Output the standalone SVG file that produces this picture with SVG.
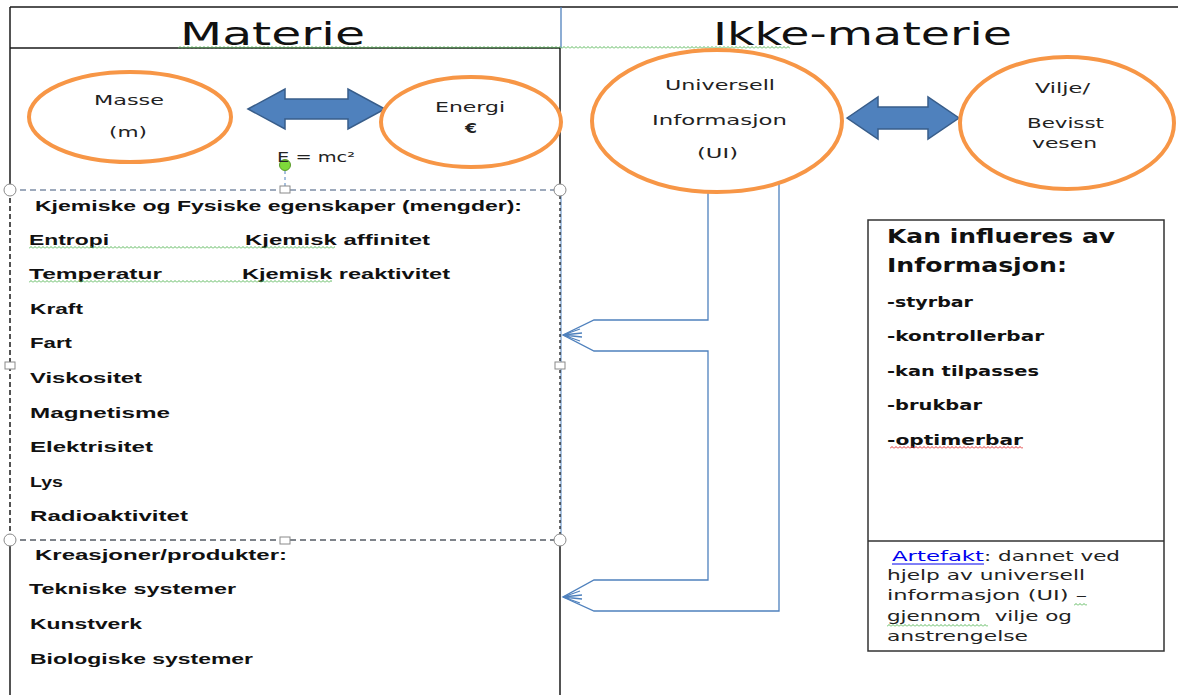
<svg xmlns="http://www.w3.org/2000/svg" width="1178" height="695" viewBox="0 0 1178 695">
<style>
.frame{stroke:#1a1a1a;stroke-width:1.5;fill:none}
.ell{fill:#fff;stroke:#F79646;stroke-width:4}
.dbl{fill:#4F81BD;stroke:#385D8A;stroke-width:1.5}
.con{fill:none;stroke:#4F81BD;stroke-width:1.3}
.title{font-family:"DejaVu Sans",Verdana,sans-serif;font-size:32px;fill:#111}
.lbl{font-family:"DejaVu Sans",Verdana,sans-serif;font-size:14px;fill:#222}
.lst{font-family:"Liberation Sans",Arial,sans-serif;font-size:15px;font-weight:bold;fill:#111}
.rb{font-family:"DejaVu Sans",Verdana,sans-serif;font-weight:bold;fill:#111}
.art{font-family:"DejaVu Sans",Verdana,sans-serif;font-size:14px;fill:#222}
.hdl{fill:#fff;stroke:#8a8a8a;stroke-width:1}
</style>
<defs>
<pattern id="wg" patternUnits="userSpaceOnUse" width="4" height="3"><path d="M0,2.5 L2,0.5 L4,2.5" fill="none" stroke="#5cb85c" stroke-width="1"/></pattern>
<pattern id="wr" patternUnits="userSpaceOnUse" width="4" height="3"><path d="M0,2.5 L2,0.5 L4,2.5" fill="none" stroke="#e03030" stroke-width="1"/></pattern>
</defs>
<rect width="1178" height="695" fill="#fff"/>

<g id="frame">
<line x1="10" y1="7" x2="1178" y2="7" class="frame"/>
<line x1="10" y1="48" x2="560" y2="48" class="frame"/>
<line x1="10" y1="7" x2="10" y2="190" class="frame"/>
<line x1="10" y1="540" x2="10" y2="695" class="frame"/>
<line x1="561" y1="7" x2="561" y2="48" stroke="#4F81BD" stroke-width="1.3"/>
<line x1="560" y1="48" x2="560" y2="190" class="frame"/>
<line x1="560" y1="540" x2="560" y2="695" class="frame"/>
<g transform="translate(178,46)"><rect width="612" height="3" fill="url(#wg)"/></g>
</g>

<g id="titles">
<text x="180" y="45" class="title" textLength="185" lengthAdjust="spacingAndGlyphs">Materie</text>
<text x="713" y="45" class="title" textLength="299" lengthAdjust="spacingAndGlyphs">Ikke-materie</text>
</g>

<g id="connectors">
<path class="con" d="M708,192 L708,320 L594,320 L563,335 L594,351 L708,351 L708,580 L594,580 L563,597 L594,611 L779,611 L779,184"/>
<path class="con" d="M563,335 L580,329 M563,335 L582,333 M563,335 L582,337 M563,335 L580,341"/>
<path class="con" d="M563,597 L580,591 M563,597 L582,595 M563,597 L582,599 M563,597 L580,603"/>
</g>

<g id="selection">
<line x1="561" y1="190" x2="561" y2="540" stroke="#4F81BD" stroke-width="1"/>
<line x1="10" y1="190" x2="560" y2="190" stroke="#7f8fa6" stroke-width="1.3" stroke-dasharray="6,4"/>
<line x1="10" y1="540" x2="560" y2="540" stroke="#555c66" stroke-width="1.3" stroke-dasharray="6,4"/>
<line x1="10" y1="190" x2="10" y2="540" stroke="#1a1a1a" stroke-width="1.5" stroke-dasharray="5,3"/>
<line x1="560" y1="190" x2="560" y2="540" stroke="#1a1a1a" stroke-width="1.3" stroke-dasharray="3,3"/>
<line x1="285" y1="171" x2="285" y2="190" stroke="#4F81BD" stroke-width="1" stroke-dasharray="3,3"/>
<circle cx="285" cy="165" r="5.5" fill="#7ed93a" stroke="#5a9a2a" stroke-width="1"/>
<circle cx="10" cy="190" r="6" class="hdl"/>
<circle cx="560" cy="190" r="6" class="hdl"/>
<circle cx="10" cy="540" r="6" class="hdl"/>
<circle cx="560" cy="540" r="6" class="hdl"/>
<rect x="280" y="186" width="10" height="7" class="hdl"/>
<rect x="280" y="537" width="10" height="7" class="hdl"/>
<rect x="5" y="362" width="10" height="7" class="hdl"/>
<rect x="555" y="362" width="10" height="7" class="hdl"/>
</g>

<g id="masse">
<ellipse cx="130" cy="117" rx="101" ry="45" class="ell"/>
<text x="94" y="105" class="lbl" textLength="70" lengthAdjust="spacingAndGlyphs">Masse</text>
<text x="109" y="137" class="lbl" textLength="38" lengthAdjust="spacingAndGlyphs">(m)</text>
</g>

<g id="arrow-left">
<path class="dbl" d="M248,109 L285,89 L285,99 L348,99 L348,89 L385,109 L348,129 L348,119 L285,119 L285,129 Z"/>
</g>

<g id="energi">
<ellipse cx="471" cy="122" rx="90" ry="45" class="ell"/>
<text x="435" y="112" class="lbl" textLength="70" lengthAdjust="spacingAndGlyphs">Energi</text>
<text x="465" y="133" class="lbl" font-weight="bold" textLength="12" lengthAdjust="spacingAndGlyphs">€</text>
</g>

<g id="formula">
<text x="277" y="162" class="lbl" textLength="78" lengthAdjust="spacingAndGlyphs">E = mc²</text>
</g>

<g id="ui">
<ellipse cx="717" cy="121" rx="125" ry="71" class="ell"/>
<text x="665" y="90" class="lbl" textLength="110" lengthAdjust="spacingAndGlyphs">Universell</text>
<text x="652" y="125" class="lbl" textLength="135" lengthAdjust="spacingAndGlyphs">Informasjon</text>
<text x="697" y="158" class="lbl" textLength="41" lengthAdjust="spacingAndGlyphs">(UI)</text>
</g>

<g id="arrow-right">
<path class="dbl" d="M847,118 L878,97 L878,107 L928,107 L928,97 L959,118 L928,139 L928,129 L878,129 L878,139 Z"/>
</g>

<g id="vilje">
<ellipse cx="1067" cy="123" rx="107" ry="66" class="ell"/>
<text x="1035" y="93" class="lbl" textLength="55" lengthAdjust="spacingAndGlyphs">Vilje/</text>
<text x="1027" y="128" class="lbl" textLength="77" lengthAdjust="spacingAndGlyphs">Bevisst</text>
<text x="1032" y="148" class="lbl" textLength="65" lengthAdjust="spacingAndGlyphs">vesen</text>
</g>

<g id="egenskaper">
<text x="35" y="211" class="lst" textLength="487" lengthAdjust="spacingAndGlyphs">Kjemiske og Fysiske egenskaper (mengder):</text>
<text x="29" y="245" class="lst" textLength="80" lengthAdjust="spacingAndGlyphs">Entropi</text>
<text x="245" y="245" class="lst" textLength="185" lengthAdjust="spacingAndGlyphs">Kjemisk affinitet</text>
<g transform="translate(29,246)"><rect width="306" height="3" fill="url(#wg)"/></g>
<text x="29" y="279" class="lst" textLength="133" lengthAdjust="spacingAndGlyphs">Temperatur</text>
<text x="242" y="279" class="lst" textLength="208" lengthAdjust="spacingAndGlyphs">Kjemisk reaktivitet</text>
<g transform="translate(29,280)"><rect width="303" height="3" fill="url(#wg)"/></g>
<text x="30" y="314" class="lst" textLength="53" lengthAdjust="spacingAndGlyphs">Kraft</text>
<text x="30" y="348" class="lst" textLength="42" lengthAdjust="spacingAndGlyphs">Fart</text>
<text x="30" y="383" class="lst" textLength="112" lengthAdjust="spacingAndGlyphs">Viskositet</text>
<text x="30" y="418" class="lst" textLength="140" lengthAdjust="spacingAndGlyphs">Magnetisme</text>
<text x="30" y="452" class="lst" textLength="123" lengthAdjust="spacingAndGlyphs">Elektrisitet</text>
<text x="30" y="487" class="lst" textLength="33" lengthAdjust="spacingAndGlyphs">Lys</text>
<text x="30" y="521" class="lst" textLength="158" lengthAdjust="spacingAndGlyphs">Radioaktivitet</text>
</g>

<g id="kreasjoner">
<text x="35" y="560" class="lst" textLength="252" lengthAdjust="spacingAndGlyphs">Kreasjoner/produkter:</text>
<text x="29" y="594" class="lst" textLength="207" lengthAdjust="spacingAndGlyphs">Tekniske systemer</text>
<text x="30" y="629" class="lst" textLength="112" lengthAdjust="spacingAndGlyphs">Kunstverk</text>
<text x="30" y="664" class="lst" textLength="223" lengthAdjust="spacingAndGlyphs">Biologiske systemer</text>
</g>

<g id="influeres">
<rect x="868" y="220" width="296" height="431" fill="#fff" stroke="#333" stroke-width="1.5"/>
<line x1="868" y1="541" x2="1164" y2="541" stroke="#333" stroke-width="1.5"/>
<text x="887" y="243" class="rb" font-size="19" textLength="228" lengthAdjust="spacingAndGlyphs">Kan influeres av</text>
<text x="887" y="272" class="rb" font-size="19" textLength="180" lengthAdjust="spacingAndGlyphs">Informasjon:</text>
<text x="887" y="307" class="rb" font-size="14" textLength="86" lengthAdjust="spacingAndGlyphs">-styrbar</text>
<text x="887" y="341" class="rb" font-size="14" textLength="157" lengthAdjust="spacingAndGlyphs">-kontrollerbar</text>
<text x="887" y="376" class="rb" font-size="14" textLength="152" lengthAdjust="spacingAndGlyphs">-kan tilpasses</text>
<text x="887" y="410" class="rb" font-size="14" textLength="95" lengthAdjust="spacingAndGlyphs">-brukbar</text>
<text x="887" y="445" class="rb" font-size="14" textLength="136" lengthAdjust="spacingAndGlyphs">-optimerbar</text>
<g transform="translate(890,446)"><rect width="133" height="3" fill="url(#wr)"/></g>
</g>

<g id="artefakt">
<text x="892" y="561" class="art" style="fill:#0000ee" textLength="92" lengthAdjust="spacingAndGlyphs">Artefakt</text>
<line x1="892" y1="564" x2="984" y2="564" stroke="#0000ee" stroke-width="1"/>
<text x="984" y="561" class="art" textLength="136" lengthAdjust="spacingAndGlyphs">: dannet ved</text>
<text x="887" y="580" class="art" textLength="198" lengthAdjust="spacingAndGlyphs">hjelp av universell</text>
<text x="887" y="600" class="art" textLength="200" lengthAdjust="spacingAndGlyphs">informasjon (UI) –</text>
<g transform="translate(1074,603)"><rect width="13" height="3" fill="url(#wg)"/></g>
<text x="887" y="621" class="art" textLength="185" lengthAdjust="spacingAndGlyphs" xml:space="preserve">gjennom  vilje og</text>
<g transform="translate(887,624)"><rect width="101" height="3" fill="url(#wg)"/></g>
<text x="887" y="641" class="art" textLength="141" lengthAdjust="spacingAndGlyphs">anstrengelse</text>
</g>
</svg>
